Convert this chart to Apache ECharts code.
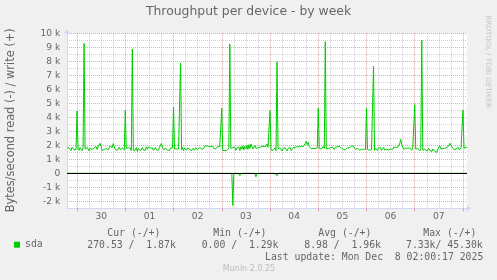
<!DOCTYPE html>
<html>
<head>
<meta charset="utf-8">
<script src="https://cdn.jsdelivr.net/npm/echarts@6/dist/echarts.min.js"></script>
<style>
html,body{margin:0;padding:0;background:#F0F0F0;}
#c{width:497px;height:280px;}
</style>
</head>
<body>
<div id="c"></div>
<script>
// ---- time base (30-minute samples, UTC) ----
const startUTC = Date.UTC(2025, 10, 29, 19, 0);
const stepMinutes = 30;

// ---- write (+) throughput, kB/s ----
const writeNov29 = [1.80,1.66,1.84,1.72,1.62,1.86,1.74,1.68,1.82,1.70];
const writeNov30 = [4.45,1.80,1.64,1.84,1.70,1.62,1.82,9.28,1.72,1.66,1.86,1.74,1.60,1.80,1.88,1.70,1.64,1.82,1.76,1.90,1.70,1.94,2.05,2.14,1.88,1.62,1.58,1.70,1.60,1.76,1.84,1.68,1.80,1.95,2.08,1.84,2.12,1.90,1.70,1.82,1.64,1.78,1.86,1.70,1.62,1.80,1.76,1.66];
const writeDec1 = [4.50,1.78,1.64,1.82,1.68,1.80,1.62,8.88,1.76,1.58,1.66,1.84,1.56,1.78,1.86,1.62,1.74,1.84,1.66,1.80,1.64,1.88,1.72,1.90,1.95,1.80,1.66,1.82,1.64,1.76,1.84,1.68,1.82,1.64,1.86,1.92,2.14,1.86,1.68,1.58,1.78,1.84,1.66,1.78,1.62,1.80,1.68,1.82];
const writeDec2 = [4.74,1.74,1.74,1.74,1.74,1.74,1.74,7.88,1.68,1.86,1.62,1.80,1.88,1.66,1.82,1.90,1.70,1.84,1.62,1.78,1.88,1.66,1.82,1.86,1.70,1.64,1.84,1.92,1.72,1.86,1.76,1.94,2.04,1.96,1.82,1.92,1.78,1.90,1.80,1.94,1.78,1.90,1.74,1.88,1.92,1.78,1.90,1.84];
const writeDec3 = [4.66,1.62,1.58,1.64,1.60,1.62,1.70,1.80,9.24,1.78,1.66,1.84,1.70,1.86,1.64,1.80,1.68,1.88,1.62,1.90,1.72,1.96,1.66,1.92,1.76,2.00,1.70,2.04,1.78,2.10,1.92,1.74,1.88,1.98,1.78,1.92,1.82,1.96,1.84,1.78,1.94,1.82,1.90,1.80,1.94,2.10,1.86,1.76];
const writeDec4 = [4.47,1.66,1.80,1.64,1.76,1.82,1.62,7.97,1.76,1.62,1.80,1.68,1.60,1.78,1.64,1.82,1.70,1.60,1.78,1.66,1.84,1.62,1.74,1.82,1.68,1.86,1.72,1.90,1.76,1.88,1.78,1.92,1.80,1.90,1.94,2.12,2.28,2.05,2.20,1.92,1.82,1.76,1.90,1.78,1.92,1.76,1.88,1.80];
const writeDec5 = [4.66,1.78,1.90,1.74,1.86,1.92,1.76,9.40,1.74,1.88,1.78,1.92,1.80,1.72,1.88,1.78,1.70,1.86,1.76,1.90,1.80,1.92,1.96,1.82,1.78,1.70,1.80,1.68,1.76,1.84,1.70,1.80,1.88,1.96,2.10,1.94,1.80,1.72,1.68,1.78,1.74,1.66,1.78,1.70,1.82,1.72,1.78,1.70];
const writeDec6 = [4.66,1.70,1.82,1.66,1.78,1.68,1.76,7.66,1.64,1.80,1.72,1.62,1.82,1.68,1.84,1.64,1.76,1.86,1.66,1.80,1.72,1.86,1.68,1.82,1.74,1.86,1.70,1.88,1.74,1.84,1.78,1.86,1.95,2.10,2.42,2.05,1.92,1.72,1.64,1.80,1.68,1.78,1.66,1.82,1.72,1.64,1.80,1.74];
const writeDec7 = [4.90,1.72,1.62,1.78,1.66,1.60,1.76,9.52,1.64,1.60,1.74,1.62,1.58,1.72,1.78,1.62,1.70,1.56,1.74,1.64,1.56,1.66,1.50,1.72,1.80,1.95,1.74,1.84,1.76,1.88,1.78,1.90,1.86,1.78,1.96,2.14,2.02,1.88,1.76,1.70,1.82,1.72,1.80,1.86,1.70,1.82,1.76,1.84];
const writeDec8 = [4.50,1.80,1.70,1.84,1.87];

// ---- read (-) throughput, kB/s (drawn negative) ----
const readNov29 = [0,0,0,0,0,0,0,0,0,0];
const readNov30 = [0,0,0,0,0,0,0,0,0,0,0,0, 0,0,0,0,0,0,0,0,0,0,0,0, 0,0,0,0,0,0,0,0,0,0,0,0, 0,0,0,0,0,0,0,0,0,0,0,0];
const readDec1  = [0,0,0,0,0,0,0,0,0,0,0,0, 0,0,0,0,0,0,0,0,0,0,0,0, 0,0,0,0,0,0,0,0,0,0,0,0, 0,0,0,0,0,0,0,0,0,0,0,0];
const readDec2  = [0,0,0,0,0,0,0,0,0,0,0,0, 0,0,0,0,0,0,0,0,0,0,0,0, 0,0,0,0,0,0,0,0,0,0,0,0, 0,0,0,0,0,0,0,0,0,0,0,0];
const readDec3  = [0,0,0,0,0,0,0,0,0,0,0,-2.30, 0,0,0,0,0,0,-0.17,0,0,0,0,0, 0,0,0,0,0,0,0,0,0,0,-0.25,0, 0,0,0,0,0,0,0,0,0,0,0,0];
const readDec4  = [-0.05,0,0,0,0,0,0,-0.18,0,0,0,0, 0,0,0,0,0,0,0,0,0,0,0,0, 0,0,0,0,0,0,0,0,0,0,0,0, 0,0,0,0,0,0,0,0,0,0,0,0];
const readDec5  = [0,0,0,0,0,0,0,0,0,0,0,0, 0,0,0,0,0,0,0,0,0,0,0,0, 0,0,0,0,0,0,0,0,0,0,0,0, 0,0,0,0,0,0,0,0,0,0,0,0];
const readDec6  = [0,0,0,0,0,0,0,0,0,0,0,0, 0,0,0,0,0,0,0,0,0,0,0,0, 0,0,0,0,0,0,0,0,0,0,0,0, 0,0,0,0,0,0,0,0,0,0,0,0];
const readDec7  = [0,0,0,0,0,0,0,0,0,0,0,0, 0,0,0,0,0,0,0,0,0,0,0,0, 0,0,0,0,0,0,0,0,0,0,0,0, 0,0,0,0,0,0,0,0,0,0,0,0];
const readDec8  = [0,0,0,0,0];

// ---- texts ----
const titleText = 'Throughput per device - by week';
const yAxisTitle = 'Bytes/second read (-) / write (+)';
const seriesName = 'sda';
const legendHeaders = ['Cur (-/+)', 'Min (-/+)', 'Avg (-/+)', 'Max (-/+)'];
const legendValues = ['270.53 /  1.87k', '0.00 /  1.29k', '8.98 /  1.96k', '7.33k/ 45.30k'];
const lastUpdate = 'Last update: Mon Dec  8 02:00:17 2025';
const watermark = 'RRDTOOL / TOBI OETIKER';
const footer = 'Munin 2.0.25';

const writeK = [].concat(writeNov29, writeNov30, writeDec1, writeDec2, writeDec3, writeDec4, writeDec5, writeDec6, writeDec7, writeDec8);
const readK = [].concat(readNov29, readNov30, readDec1, readDec2, readDec3, readDec4, readDec5, readDec6, readDec7, readDec8);

const pad = n => (n < 10 ? '0' : '') + n;
const categories = writeK.map((_, i) => {
  const d = new Date(startUTC + i * stepMinutes * 60000);
  return pad(d.getUTCMonth() + 1) + '-' + pad(d.getUTCDate()) + ' ' + pad(d.getUTCHours()) + ':' + pad(d.getUTCMinutes());
});
const hm = v => String(v).slice(6);
const isNoon = (i, v) => hm(categories[i]) === '12:00';
const isMidnight = (i, v) => hm(categories[i]) === '00:00';
const isSixHour = (i, v) => ['00:00', '06:00', '12:00', '18:00'].indexOf(hm(categories[i])) >= 0;

const MGRID = 'rgba(222,90,90,0.55)';
const GRID = 'rgba(150,150,150,0.45)';
const AXIS = '#CFD6F8';
const FONT = '#666666';
const GREEN = '#00CC00';

const chart = echarts.init(document.getElementById('c'), null, { renderer: 'canvas' });
const monoFont = '9.8px "DejaVu Sans Mono"';
const gElems = [];
const headerX = [107.3, 213.3, 318.3, 423.3];
const valueX = [87.3, 201.7, 304.3, 406];
legendHeaders.forEach((t, i) => gElems.push({ type: 'text', x: headerX[i], y: 233.3, silent: true,
  style: { text: t, font: monoFont, fill: FONT, align: 'left', verticalAlign: 'middle' } }));
legendValues.forEach((t, i) => gElems.push({ type: 'text', x: valueX[i], y: 245.7, silent: true,
  style: { text: t, font: monoFont, fill: FONT, align: 'left', verticalAlign: 'middle' } }));
gElems.push({ type: 'text', x: 483.3, y: 257.7, silent: true,
  style: { text: lastUpdate, font: monoFont, fill: FONT, align: 'right', verticalAlign: 'middle' } });
gElems.push({ type: 'text', x: 249, y: 269, silent: true,
  style: { text: footer, font: '8px "DejaVu Sans"', fill: '#bbbbbb', align: 'center', verticalAlign: 'middle' } });
gElems.push({ type: 'text', x: 488.3, y: 61.7, rotation: -Math.PI / 2, silent: true,
  style: { text: watermark, font: '7.2px "DejaVu Sans"', fill: '#c4c4c4', align: 'center', verticalAlign: 'middle' } });
gElems.push({ type: 'text', x: 11.3, y: 120.3, rotation: Math.PI / 2, silent: true,
  style: { text: yAxisTitle, font: '11.4px "DejaVu Sans"', fill: FONT, align: 'center', verticalAlign: 'middle' } });

chart.setOption({
  animation: false,
  backgroundColor: '#F0F0F0',
  title: {
    text: titleText, left: 'center', top: 6, padding: 0,
    textStyle: { fontFamily: 'DejaVu Sans', fontSize: 12.4, fontWeight: 'normal', color: FONT }
  },
  legend: {
    data: [seriesName], left: 14, top: 239.7, padding: 0, itemGap: 0,
    icon: 'rect', itemWidth: 6, itemHeight: 6, selectedMode: false,
    textStyle: { fontFamily: 'DejaVu Sans Mono', fontSize: 9.8, color: FONT }
  },
  grid: {
    left: 67, right: 30, top: 33.3, bottom: 71.7,
    show: true, backgroundColor: '#FFFFFF', borderWidth: 0,
    containLabel: false, outerBoundsMode: 'none'
  },
  xAxis: [
    {
      type: 'category', data: categories, boundaryGap: false,
      axisLine: { onZero: false, lineStyle: { color: AXIS, width: 1 },
        symbol: ['none', 'arrow'], symbolSize: [5, 5], symbolOffset: [0, 4] },
      axisTick: { show: false },
      axisLabel: { interval: isNoon, formatter: v => String(v).slice(3, 5), margin: 4,
        fontFamily: 'DejaVu Sans', fontSize: 9.1, color: FONT },
      splitLine: { show: true, interval: isSixHour,
        lineStyle: { color: [MGRID, GRID, GRID, GRID], type: [1, 1], width: 1 } }
    },
    {
      type: 'category', data: categories, boundaryGap: false, position: 'bottom',
      axisLine: { show: false, onZero: false },
      axisTick: { show: true, interval: isMidnight, length: 3, lineStyle: { color: MGRID } },
      axisLabel: { show: false },
      splitLine: { show: false }
    }
  ],
  yAxis: {
    type: 'value', min: -2.5, max: 10, interval: 0.5,
    axisLine: { show: true, lineStyle: { color: AXIS, width: 1 },
      symbol: ['none', 'arrow'], symbolSize: [5, 5], symbolOffset: [0, 4] },
    axisTick: { show: false },
    axisLabel: {
      margin: 6.7, fontFamily: 'DejaVu Sans', fontSize: 9.1, color: FONT,
      formatter: v => (Math.abs(v - Math.round(v)) > 1e-9 ? '' : (Math.round(v) === 0 ? '0' : Math.round(v) + ' k'))
    },
    splitLine: { show: true, showMinLine: true, showMaxLine: true,
      lineStyle: { color: [GRID, MGRID], type: [1, 1], width: 1 } }
  },
  graphic: { elements: gElems },
  series: [
    {
      name: seriesName, type: 'line', data: writeK, symbol: 'none', showSymbol: false,
      lineStyle: { color: GREEN, width: 1 }, itemStyle: { color: GREEN }, z: 3
    },
    {
      name: seriesName, type: 'line', data: readK, symbol: 'none', showSymbol: false,
      lineStyle: { color: GREEN, width: 1 }, itemStyle: { color: GREEN }, z: 3,
      markLine: {
        silent: true, symbol: ['none', 'none'], label: { show: false }, animation: false,
        lineStyle: { color: '#000000', width: 1, type: 'solid' },
        emphasis: { disabled: true },
        data: [{ yAxis: 0 }]
      }
    }
  ]
});
</script>
</body>
</html>
